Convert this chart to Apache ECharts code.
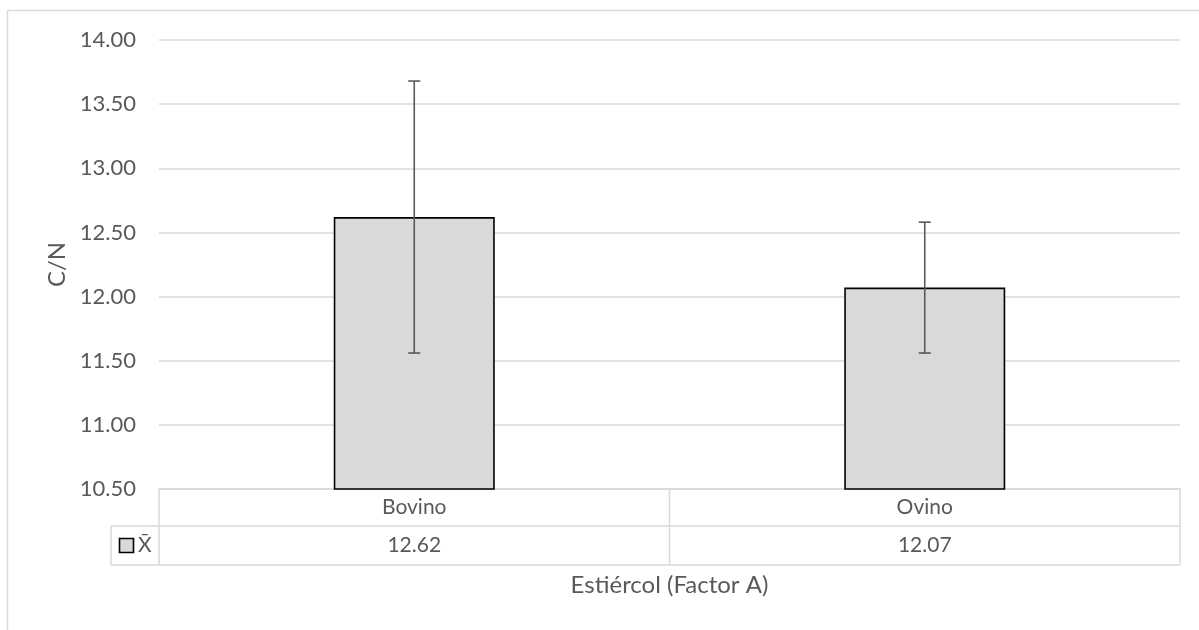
<!DOCTYPE html>
<html>
<head>
<meta charset="utf-8">
<script src="https://cdn.jsdelivr.net/npm/echarts@6/dist/echarts.min.js"></script>
<style>html,body{margin:0;padding:0;background:#fff;}#c{width:1199px;height:630px;}</style>
</head>
<body>
<div id="c"></div>
<script>
const categories = ['Bovino', 'Ovino'];
const means = [12.62, 12.07];
const errors = [1.06, 0.51];
const seriesName = 'X̄';
const yTicks = { min: 10.5, max: 14, interval: 0.5 };
const yTitle = 'C/N';
const xTitle = 'Estiércol (Factor A)';

const W = 1199, H = 630;
const G = { left: 159, right: 19, top: 40, bottom: 141 };
const gridBottomY = H - G.bottom;
const row1 = 37, row2 = 39;
const lineColor = '#d9d9d9';
const textColor = '#595959';
const FONT = 'Lato';

const chart = echarts.init(document.getElementById('c'), null, { renderer: 'canvas' });

const tableLines = [];
const rightX = W - G.right;
function hline(x1, x2, y) { tableLines.push({ type: 'line', shape: { x1, y1: y, x2, y2: y }, style: { stroke: lineColor, lineWidth: 1.5 }, silent: true }); }
function vline(x, y1, y2) { tableLines.push({ type: 'line', shape: { x1: x, y1, x2: x, y2 }, style: { stroke: lineColor, lineWidth: 1.5 }, silent: true }); }
hline(G.left, rightX, gridBottomY + row1);
hline(111, rightX, gridBottomY + row1 + row2);
hline(111, G.left, gridBottomY + row1);
vline(G.left, gridBottomY, gridBottomY + row1 + row2);
vline(rightX, gridBottomY, gridBottomY + row1 + row2);
for (let i = 1; i < categories.length; i++) {
  const x = G.left + (rightX - G.left) * i / categories.length;
  vline(x, gridBottomY, gridBottomY + row1 + row2);
}
vline(111, gridBottomY + row1, gridBottomY + row1 + row2);

const option = {
  backgroundColor: '#fff',
  animation: false,
  textStyle: { fontFamily: FONT },
  grid: { left: G.left, right: G.right, top: G.top, bottom: G.bottom, containLabel: false },
  xAxis: {
    type: 'category',
    data: categories,
    axisLine: { show: true, lineStyle: { color: lineColor, width: 1.5 } },
    axisTick: { show: false },
    axisLabel: {
      margin: 0,
      interval: 0,
      formatter: function (v, i) { return '{a|' + v + '}\n{b|' + means[i].toFixed(2) + '}'; },
      rich: {
        a: { fontFamily: FONT, fontSize: 21, color: textColor, lineHeight: row1, height: row1 },
        b: { fontFamily: FONT, fontSize: 21, color: textColor, lineHeight: row2, height: row2 }
      }
    },
    name: xTitle,
    nameLocation: 'middle',
    nameGap: 84,
    nameTextStyle: { fontFamily: FONT, fontSize: 24, color: textColor }
  },
  yAxis: {
    type: 'value',
    min: yTicks.min, max: yTicks.max, interval: yTicks.interval,
    axisLine: { show: false },
    axisTick: { show: false },
    splitLine: { lineStyle: { color: lineColor, width: 1.5 } },
    axisLabel: { margin: 23, fontFamily: FONT, fontSize: 22, color: textColor, formatter: v => v.toFixed(2) },
    name: yTitle,
    nameLocation: 'middle',
    nameGap: 90,
    nameRotate: 90,
    nameTextStyle: { fontFamily: FONT, fontSize: 24, color: textColor }
  },
  series: [
    {
      name: seriesName,
      type: 'bar',
      data: means,
      barWidth: 161,
      itemStyle: { color: '#d9d9d9', borderColor: '#000', borderWidth: 1.6 },
      z: 2
    },
    {
      type: 'custom',
      data: means.map((m, i) => [i, m - errors[i], m + errors[i]]),
      z: 5,
      renderItem: function (params, api) {
        const x = api.value(0);
        const lo = api.coord([x, api.value(1)]);
        const hi = api.coord([x, api.value(2)]);
        const cw = 6;
        const st = { stroke: '#595959', lineWidth: 1.6 };
        return {
          type: 'group',
          children: [
            { type: 'line', shape: { x1: lo[0], y1: lo[1], x2: hi[0], y2: hi[1] }, style: st },
            { type: 'line', shape: { x1: hi[0] - cw, y1: hi[1], x2: hi[0] + cw, y2: hi[1] }, style: st },
            { type: 'line', shape: { x1: lo[0] - cw, y1: lo[1], x2: lo[0] + cw, y2: lo[1] }, style: st }
          ]
        };
      }
    }
  ],
  graphic: [
    { type: 'rect', shape: { x: 7.5, y: 10.5, width: 1300, height: 700 }, style: { fill: 'none', stroke: '#d9d9d9', lineWidth: 1.5 }, silent: true },
    ...tableLines,
    { type: 'rect', shape: { x: 119.5, y: gridBottomY + row1 + 12.5, width: 14, height: 14 }, style: { fill: '#d9d9d9', stroke: '#000', lineWidth: 1.6 }, silent: true },
    { type: 'text', x: 138, y: gridBottomY + row1 + row2 / 2, style: { text: seriesName, fontFamily: FONT, fontSize: 21, fill: textColor, verticalAlign: 'middle', align: 'left' }, silent: true }
  ]
};
chart.setOption(option);
</script>
</body>
</html>
